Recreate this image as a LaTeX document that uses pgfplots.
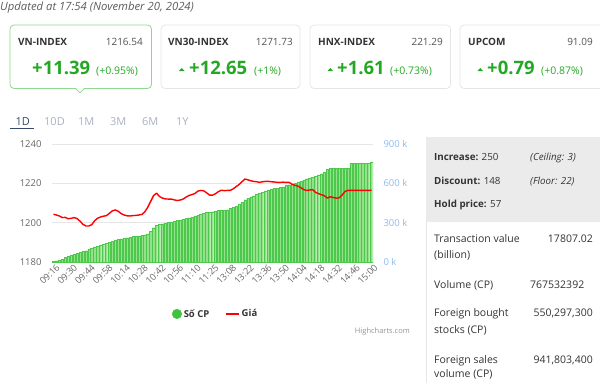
\documentclass[border=0pt]{standalone}
\usepackage{pgfplots}
\pgfplotsset{compat=1.18}
\usepackage{pgfplotstable}
\usepackage{fontspec}
\setmainfont{Open Sans}

\definecolor{txt}{HTML}{333333}
\definecolor{gtxt}{HTML}{666666}
\definecolor{upg}{HTML}{24A824}
\definecolor{barfill}{HTML}{95E08A}
\definecolor{baredge}{HTML}{4CC84C}
\definecolor{legg}{HTML}{3FC33F}
\definecolor{rblue}{HTML}{8DBBEE}
\definecolor{gridc}{HTML}{E6E6E6}
\definecolor{axc}{HTML}{CCD6EB}
\definecolor{tabon}{HTML}{3B4A6B}
\definecolor{taboff}{HTML}{A9B1C3}
\definecolor{panel}{HTML}{EBEBEB}
\definecolor{cardb}{HTML}{E6E6E6}
\definecolor{cardsel}{HTML}{8FD88F}

\pgfplotstableread{
i vol price
0 5 1204.3
1 10 1203.9
2 16 1203.4
3 22 1202.6
4 34 1202.7
5 45 1202.0
6 54 1202.2
7 60 1202.6
8 64 1202.1
9 72 1200.8
10 80 1199.2
11 86 1198.3
12 95 1198.3
13 106 1199.0
14 116 1201.0
15 122 1202.3
16 130 1202.9
17 138 1203.3
18 145 1203.6
19 152 1204.8
20 158 1206.0
21 168 1206.5
22 173 1205.8
23 178 1204.6
24 182 1203.9
25 186 1203.5
26 190 1203.4
27 194 1203.6
28 197 1203.7
29 200 1203.9
30 204 1204.2
31 208 1205.5
32 215 1207.8
33 235 1210.8
34 262 1213.8
35 280 1215.0
36 288 1213.3
37 292 1212.5
38 298 1212.1
39 303 1212.0
40 306 1212.0
41 310 1211.6
42 316 1211.3
43 322 1211.5
44 328 1212.0
45 333 1213.0
46 338 1213.8
47 343 1214.3
48 350 1214.8
49 358 1216.0
50 365 1216.4
51 372 1216.2
52 378 1215.2
53 381 1214.0
54 384 1214.0
55 388 1214.7
56 392 1215.8
57 395 1216.5
58 397 1216.3
59 399 1216.4
60 408 1216.4
61 416 1217.2
62 425 1218.3
63 440 1219.4
64 455 1220.8
65 475 1222.2
66 488 1221.8
67 496 1221.3
68 504 1221.0
69 518 1220.8
70 526 1220.5
71 534 1220.8
72 543 1221.0
73 550 1221.0
74 556 1220.8
75 560 1220.7
76 564 1220.5
77 570 1220.5
78 575 1220.6
79 583 1220.5
80 590 1220.5
81 597 1219.5
82 603 1219.0
83 610 1218.6
84 617 1217.8
85 624 1216.8
86 636 1216.4
87 642 1216.6
88 648 1216.8
89 656 1215.4
90 665 1214.8
91 674 1214.2
92 684 1213.7
93 710 1212.5
94 717 1213.2
95 717 1212.8
96 717 1212.5
97 717 1212.6
98 717 1214.0
99 717 1215.9
100 717 1216.4
101 755 1216.4
102 755 1216.4
103 755 1216.4
104 755 1216.4
105 755 1216.4
106 755 1216.4
107 755 1216.4
108 762 1216.5
}\datatable

\newcommand{\fs}[1]{\fontsize{#1bp}{#1bp}\selectfont}

\begin{document}
\begin{tikzpicture}
\begin{scope}[x=1bp,y=-1bp]
\useasboundingbox (0,0) rectangle (600,383);
% header
\node[anchor=base west, inner sep=0, text=gtxt!90!black] at (0,10.5) {\fs{11.3}\itshape Updated at 17:54 (November 20, 2024)};
% cards
\draw[cardsel, line width=0.8bp, rounded corners=4bp, fill=white] (10,25) rectangle (151.5,88.5);
\fill[white] (76,88) -- (80,92.5) -- (84,88) -- cycle;
\draw[cardsel, line width=0.8bp] (75.5,88.5) -- (80,92.8) -- (84.5,88.5);
\draw[cardb, line width=0.8bp, rounded corners=4bp] (161,25) rectangle (300,88.5);
\draw[cardb, line width=0.8bp, rounded corners=4bp] (310,25) rectangle (450.5,88.5);
\draw[cardb, line width=0.8bp, rounded corners=4bp] (460,25) rectangle (610,88.5);
% card texts
\foreach \x/\name/\vx/\val in {18/VN-INDEX/143/1216.54, 168/VN30-INDEX/293/1271.73, 318/HNX-INDEX/443/221.29, 468/UPCOM/593/91.09}{
  \node[anchor=base west, inner sep=0, text=txt] at (\x,45) {\fs{10}\bfseries \name};
  \node[anchor=base east, inner sep=0, text=gtxt!80!black] at (\vx,45) {\fs{10}\val};
}
\node[anchor=base west, inner sep=0, text=upg] at (32,74) {\fs{18.5}\bfseries +11.39};
\node[anchor=base west, inner sep=0, text=upg] at (96,74) {\fs{10.5}(+0.95\%)};
\fill[upg] (179,71) -- (181.8,68) -- (184.6,71) -- cycle;
\node[anchor=base west, inner sep=0, text=upg] at (189,74) {\fs{18.5}\bfseries +12.65};
\node[anchor=base west, inner sep=0, text=upg] at (254,74) {\fs{10.5}(+1\%)};
\fill[upg] (327.5,71) -- (330.3,68) -- (333.1,71) -- cycle;
\node[anchor=base west, inner sep=0, text=upg] at (337,74) {\fs{18.5}\bfseries +1.61};
\node[anchor=base west, inner sep=0, text=upg] at (390,74) {\fs{10.5}(+0.73\%)};
\fill[upg] (477.5,71) -- (480.3,68) -- (483.1,71) -- cycle;
\node[anchor=base west, inner sep=0, text=upg] at (487,74) {\fs{18.5}\bfseries +0.79};
\node[anchor=base west, inner sep=0, text=upg] at (541,74) {\fs{10.5}(+0.87\%)};
% tabs
\node[anchor=base west, inner sep=0, text=tabon] at (15.5,125) {\fs{11}1D};
\draw[tabon, line width=1.3bp] (10,128.3) -- (34,128.3);
\foreach \x/\t in {44/10D, 78/1M, 110/3M, 142/6M, 176/1Y}{
  \node[anchor=base west, inner sep=0, text=taboff] at (\x,125) {\fs{11}\t};
}
% right panel
\fill[panel] (426,137) rectangle (600,222);
\draw[gridc, line width=0.8bp] (426,222) -- (426,383);
\node[anchor=base west, inner sep=0, text=txt] at (434,160.7) {\fs{9.8}\textbf{Increase:} 250};
\node[anchor=base west, inner sep=0, text=txt] at (530,160.7) {\fs{9.8}\itshape (Ceiling: 3)};
\node[anchor=base west, inner sep=0, text=txt] at (434,184.3) {\fs{9.8}\textbf{Discount:} 148};
\node[anchor=base west, inner sep=0, text=txt] at (530,184.3) {\fs{9.8}\itshape (Floor: 22)};
\node[anchor=base west, inner sep=0, text=txt] at (434,207.3) {\fs{9.8}\textbf{Hold price:} 57};
\node[anchor=base west, inner sep=0, text=txt] at (434,242.7) {\fs{10.5}Transaction value};
\node[anchor=base west, inner sep=0, text=txt] at (434,258.3) {\fs{10.5}(billion)};
\node[anchor=base east, inner sep=0, text=txt] at (593,242.7) {\fs{10.5}17807.02};
\node[anchor=base west, inner sep=0, text=txt] at (434,288.3) {\fs{10.5}Volume (CP)};
\node[anchor=base west, inner sep=0, text=txt] at (530,288.3) {\fs{10.5}767532392};
\node[anchor=base west, inner sep=0, text=txt] at (434,316.7) {\fs{10.5}Foreign bought};
\node[anchor=base west, inner sep=0, text=txt] at (434,333.3) {\fs{10.5}stocks (CP)};
\node[anchor=base east, inner sep=0, text=txt] at (593,316.7) {\fs{10.5}550,297,300};
\node[anchor=base west, inner sep=0, text=txt] at (434,363.3) {\fs{10.5}Foreign sales};
\node[anchor=base west, inner sep=0, text=txt] at (434,377.3) {\fs{10.5}volume (CP)};
\node[anchor=base east, inner sep=0, text=txt] at (593,363.3) {\fs{10.5}941,803,400};
% credits
\node[anchor=base east, inner sep=0, text=gtxt!70] at (410,333) {\fs{7.5}Highcharts.com};
\end{scope}

% volume axis (right)
\begin{axis}[
  at={(52bp,-262bp)}, anchor=south west, scale only axis,
  width=321bp, height=118bp,
  xmin=-0.5, xmax=108.5, ymin=0, ymax=900,
  axis y line*=right, axis x line*=bottom,
  x axis line style={draw=axc, line width=0.8bp},
  y axis line style={draw=none},
  tick style={draw=none},
  ymajorgrids, grid style={draw=gridc, line width=0.8bp},
  ytick={0,300,600,900}, yticklabels={0 k,300 k,600 k,900 k},
  yticklabel style={text=rblue, font=\fs{9.5}, anchor=west, xshift=7bp},
  xtick={0,6,...,108},
  xticklabels={09:16,09:30,09:44,09:58,10:14,10:28,10:42,10:56,11:10,11:25,13:08,13:22,13:36,13:50,14:04,14:18,14:32,14:46,15:00},
  xticklabel style={rotate=45, anchor=east, font=\fs{9.2}, text=gtxt, inner sep=0.5bp, yshift=-6bp, xshift=1bp},
]
\addplot[ybar, bar width=0.78, fill=barfill, draw=baredge, line width=0.25bp] table[x=i,y=vol]{\datatable};
\end{axis}

% price axis (left)
\begin{axis}[
  at={(52bp,-262bp)}, anchor=south west, scale only axis,
  width=321bp, height=118bp,
  xmin=-0.5, xmax=108.5, ymin=1180, ymax=1240,
  axis y line*=left, axis x line=none,
  y axis line style={draw=none},
  tick style={draw=none},
  ytick={1180,1200,1220,1240}, yticklabels={1180,1200,1220,1240},
  yticklabel style={text=gtxt, font=\fs{9.5}, anchor=east, xshift=-7bp},
  legend style={at={(axis description cs:0.51,-0.44)}, anchor=center, draw=none, fill=none,
    font=\fs{9.5}\bfseries, text=txt, legend columns=2,
    /tikz/every even column/.append style={column sep=14bp}},
]
\addlegendimage{only marks, mark=*, mark size=4.8bp, color=legg}
\addlegendentry{Số CP}
\addplot[red, line width=1.4bp, line join=round,
  legend image code/.code={\draw[red, line width=1.4bp] (0bp,0bp) -- (13bp,0bp);}]
  table[x=i,y=price]{\datatable};
\addlegendentry{Giá}
\end{axis}
\end{tikzpicture}
\end{document}
